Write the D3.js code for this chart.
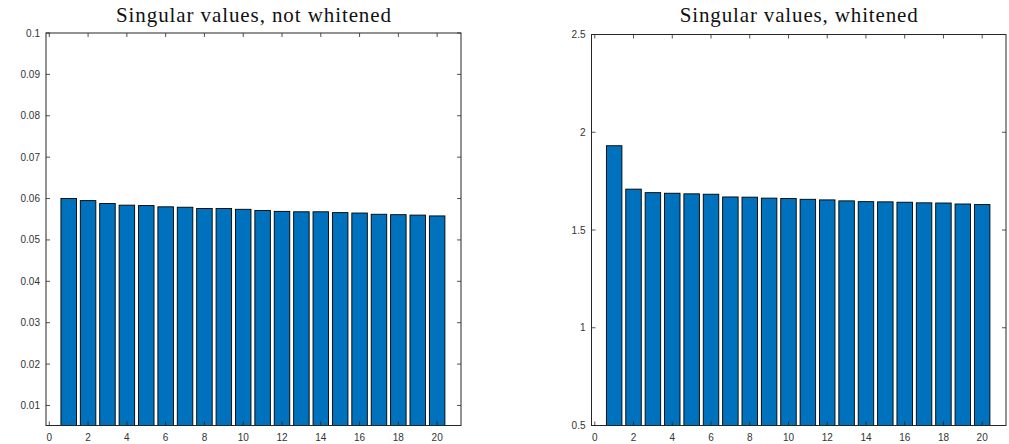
<!DOCTYPE html>
<html><head><meta charset="utf-8">
<script src="https://cdn.jsdelivr.net/npm/d3@7"></script>
<style>body{margin:0;background:#fff}svg{display:block}</style>
</head><body>
<svg id="c" width="1009" height="444"></svg>
<script>
const categories = d3.range(1, 21);
const notWhitened = [0.0600,0.0595,0.0588,0.0584,0.0583,0.0580,0.0579,0.0576,0.0576,0.0574,0.0571,0.0569,0.0568,0.0568,0.0566,0.0565,0.0562,0.0561,0.0560,0.0558];
const whitened = [1.931,1.709,1.691,1.688,1.685,1.683,1.669,1.668,1.663,1.661,1.657,1.654,1.649,1.645,1.644,1.642,1.639,1.638,1.633,1.630];
const xTicks = [0,2,4,6,8,10,12,14,16,18,20];
const yTicksLeft = [0.01,0.02,0.03,0.04,0.05,0.06,0.07,0.08,0.09,0.1];
const yTicksRight = [0.5,1,1.5,2,2.5];
const titles = ["Singular values, not whitened", "Singular values, whitened"];

const svg = d3.select("#c");
const panels = [
  {x0:46, x1:461, y0:33, y1:425.5, ydom:[0.00516,0.1], data:notWhitened, yt:yTicksLeft, title:titles[0], tw:275, fmt:d=>String(d)},
  {x0:591.5, x1:1006, y0:34.5, y1:425.5, ydom:[0.5,2.5], data:whitened, yt:yTicksRight, title:titles[1], tw:238, fmt:d=>String(d)}
];
panels.forEach((p,i)=>{
  const x = d3.scaleLinear().domain([-0.17,21.23]).range([p.x0,p.x1]);
  const y = d3.scaleLinear().domain(p.ydom).range([p.y1,p.y0]);
  const g = svg.append("g");
  g.append("clipPath").attr("id","cl"+i).append("rect")
    .attr("x",p.x0).attr("y",p.y0).attr("width",p.x1-p.x0).attr("height",p.y1-p.y0);
  g.append("g").attr("clip-path",`url(#cl${i})`).selectAll("rect").data(p.data).join("rect")
    .attr("x",(d,j)=>x(categories[j]-0.4)).attr("width",x(0.8)-x(0))
    .attr("y",d=>y(d)).attr("height",d=>y(p.ydom[0])+20-y(d))
    .attr("fill","#0072BD").attr("stroke","#000").attr("stroke-width",0.9);
  const col="#262626";
  const tl=4;
  g.append("g").selectAll("path").data(xTicks).join("path")
    .attr("d",d=>`M${x(d)},${p.y1}v${-tl}M${x(d)},${p.y0}v${tl}`).attr("stroke",col).attr("stroke-width",0.8);
  g.append("g").selectAll("path").data(p.yt).join("path")
    .attr("d",d=>`M${p.x0},${y(d)}h${tl}M${p.x1},${y(d)}h${-tl}`).attr("stroke",col).attr("stroke-width",0.8);
  g.append("rect").attr("x",p.x0).attr("y",p.y0).attr("width",p.x1-p.x0).attr("height",p.y1-p.y0)
    .attr("fill","none").attr("stroke",col).attr("stroke-width",1);
  g.append("g").selectAll("text").data(xTicks).join("text")
    .attr("x",d=>x(d)).attr("y",p.y1+15).attr("text-anchor","middle")
    .attr("font-family","Liberation Sans, Arial, sans-serif").attr("font-size",10).attr("fill","#333").text(d=>d);
  g.append("g").selectAll("text").data(p.yt).join("text")
    .attr("x",p.x0-6).attr("y",d=>y(d)+3.5).attr("text-anchor","end")
    .attr("font-family","Liberation Sans, Arial, sans-serif").attr("font-size",10).attr("fill","#333").text(p.fmt);
  g.append("text").attr("x",(p.x0+p.x1)/2).attr("y",22).attr("text-anchor","middle")
    .attr("font-family","Liberation Serif, Times New Roman, serif").attr("font-size",21)
    .attr("textLength",p.tw).attr("lengthAdjust","spacing").attr("fill","#111").text(p.title);
});
</script>
</body></html>
